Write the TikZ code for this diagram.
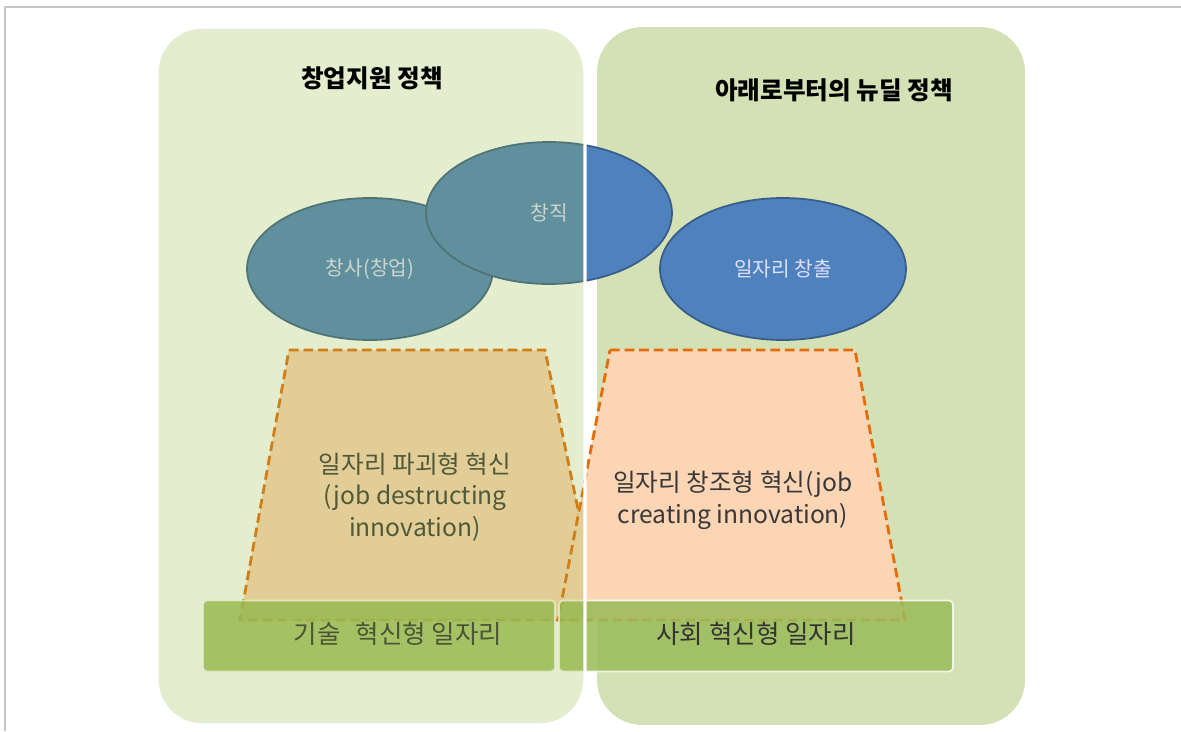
\documentclass[tikz,border=0pt]{standalone}
\usepackage{fontspec}
\setmainfont{Noto Sans CJK KR}
\usetikzlibrary{shapes.geometric}
\definecolor{panelgreen}{RGB}{150,185,62}
\definecolor{panelright}{RGB}{211,225,180}
\definecolor{ideablue}{RGB}{79,129,189}
\definecolor{ideaedge}{RGB}{56,93,138}
\definecolor{innovpeach}{RGB}{252,213,181}
\definecolor{innovorange}{RGB}{228,108,10}
\definecolor{jobgreen}{RGB}{155,187,89}
\tikzset{
  leftpanel/.style={rounded corners=0.9cm, fill=panelgreen, fill opacity=0.25, draw=white, line width=1.8pt, minimum width=8.56cm, minimum height=13.96cm},
  rightpanel/.style={rounded corners=0.9cm, fill=panelright, minimum width=8.56cm, minimum height=13.96cm},
  ideabox/.style={ellipse, draw=ideaedge, line width=1pt, fill=ideablue, minimum width=4.92cm, minimum height=2.84cm, inner sep=0pt, text=white!88!blue, font=\fontsize{11.5}{13}\selectfont},
  innovbox/.style={draw=innovorange, fill=innovpeach, line width=1.6pt, dash pattern=on 5.5pt off 2.8pt},
  innovtext/.style={align=center, text=black!78, font=\fontsize{14}{18}\selectfont},
  jobbar/.style={draw=white, draw opacity=0.8, line width=1pt, fill=jobgreen, fill opacity=0.86, rounded corners=0.08cm, minimum height=1.42cm},
  bartext/.style={text=black!80, font=\fontsize{14.5}{16}\selectfont},
  paneltitle/.style={font=\bfseries\fontsize{14}{16}\selectfont}
}
\begin{document}
\begin{tikzpicture}[x=0.02cm, y=-0.02cm]
  \useasboundingbox (0,0) rectangle (1181,731);
  \draw[gray!45, line width=1pt] (5,731) -- (5,7) -- (1181,7);
  % right side: new deal from below
  \node[rightpanel] (newdeal) at (811,376) {};
  \node[paneltitle] (newdealtitle) at (834,90) {아래로부터의 뉴딜 정책};
  \node[ideabox] (founding) at (370,269) {창사(창업)};
  \node[ideabox] (jobmaking) at (549,213) {창직};
  \node[ideabox] (jobcreation) at (783,269) {일자리 창출};
  \draw[innovbox] (289,350) -- (545,350) -- (601,620) -- (240,620) -- cycle;
  \draw[innovbox] (610,350) -- (855,350) -- (905,620) -- (558,620) -- cycle;
  \node[innovtext] (destruct) at (415,497) {일자리 파괴형 혁신\\(job destructing\\innovation)};
  \node[innovtext] (create) at (733,500) {일자리 창조형 혁신(job\\creating innovation)};
  \node[jobbar, minimum width=7.04cm] (techbar) at (379,636) {};
  \node[jobbar, minimum width=7.88cm] (socialbar) at (756,636) {};
  \node[bartext] (techtext) at (398,634) {기술\hspace{0.6em}혁신형 일자리};
  \node[bartext] (socialtext) at (756,634) {사회 혁신형 일자리};
  % left side: startup support, laid over
  \node[leftpanel] (startup) at (371,376) {};
  \node[paneltitle] (startuptitle) at (372,78) {창업지원 정책};
\end{tikzpicture}
\end{document}
